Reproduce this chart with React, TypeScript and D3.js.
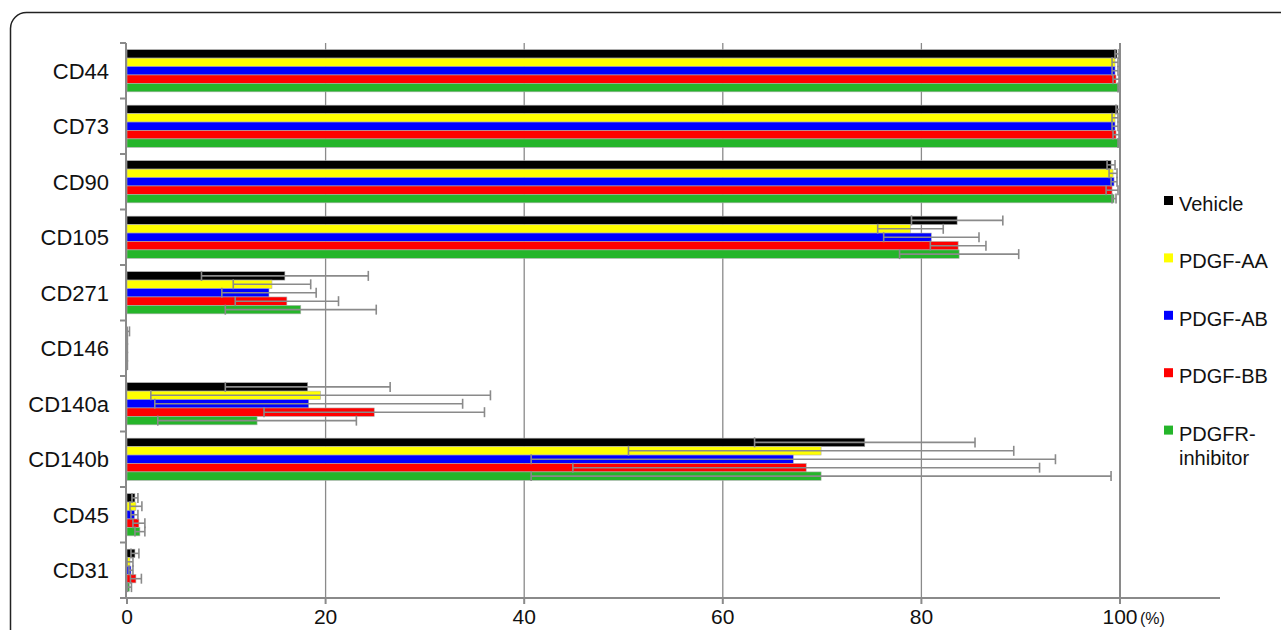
import React from "react";
import * as d3 from "d3";

const categories = ["CD44", "CD73", "CD90", "CD105", "CD271", "CD146", "CD140a", "CD140b", "CD45", "CD31"];
const seriesNames = ["Vehicle", "PDGF-AA", "PDGF-AB", "PDGF-BB", "PDGFR-inhibitor"];
const seriesColors = ["#000000", "#ffff00", "#0000ff", "#ff0000", "#25b52a"];

const vehicle = [99.7, 99.8, 99.1, 83.6, 15.9, 0.05, 18.2, 74.3, 0.8, 0.8];
const vehicleErr = [0.2, 0.2, 0.4, 4.6, 8.4, 0.2, 8.3, 11.1, 0.3, 0.4];
const pdgfAA = [99.5, 99.5, 99.3, 78.9, 14.6, 0.02, 19.5, 69.9, 0.9, 0.3];
const pdgfAAErr = [0.3, 0.3, 0.4, 3.3, 3.9, 0.02, 17.1, 19.4, 0.6, 0.3];
const pdgfAB = [99.5, 99.5, 99.4, 81.0, 14.3, 0.02, 18.3, 67.1, 0.75, 0.4];
const pdgfABErr = [0.3, 0.3, 0.3, 4.8, 4.75, 0.02, 15.5, 26.4, 0.35, 0.2];
const pdgfBB = [99.6, 99.6, 99.2, 83.7, 16.1, 0.02, 24.9, 68.4, 1.2, 0.9];
const pdgfBBErr = [0.3, 0.3, 0.6, 2.8, 5.2, 0.02, 11.1, 23.5, 0.6, 0.55];
const inhibitor = [99.9, 99.9, 99.4, 83.8, 17.5, 0.02, 13.1, 69.9, 1.3, 0.25];
const inhibitorErr = [0.1, 0.1, 0.2, 6.0, 7.6, 0.02, 10.0, 29.2, 0.5, 0.2];

const xTicks = [0, 20, 40, 60, 80, 100];

const values = [vehicle, pdgfAA, pdgfAB, pdgfBB, inhibitor];
const errors = [vehicleErr, pdgfAAErr, pdgfABErr, pdgfBBErr, inhibitorErr];

const FONT = "'Liberation Sans', Arial, Helvetica, sans-serif";

export default function App() {
  const W = 1281;
  const H = 630;
  const top = 43;
  const bottom = 598;
  const x = d3.scaleLinear().domain([0, 100]).range([127, 1120]);
  const xEnd = 1220;
  const y = d3.scaleBand<string>().domain(categories).range([top, bottom]).paddingInner(0.24).paddingOuter(0.12);
  const sub = d3.scaleBand<string>().domain(seriesNames).range([0, y.bandwidth()]).padding(0);
  const step = y.step();
  const axisColor = "#8a8a8a";
  const boundaries = d3.range(categories.length + 1).map((i) => top + i * step);

  return (
    <svg width={W} height={H} style={{ position: "absolute", left: 0, top: 0 }} fontFamily={FONT}>
      <rect x={0} y={0} width={W} height={H} fill="#ffffff" />
      <rect x={10.5} y={12.5} width={1400} height={800} rx={16} ry={16} fill="none" stroke="#222" strokeWidth={1.5} />

      {/* gridlines */}
      {xTicks.filter((t) => t > 0).map((t) => (
        <line key={"g" + t} x1={x(t)} x2={x(t)} y1={top} y2={bottom} stroke={axisColor} strokeWidth={t === 100 ? 2 : 1.3} />
      ))}

      {/* bars */}
      {categories.map((c, ci) => (
        <g key={c} transform={`translate(0,${y(c)})`}>
          {seriesNames.map((s, si) => (
            <rect
              key={s}
              x={x(0)}
              y={sub(s)}
              width={Math.max(0, x(values[si][ci]) - x(0))}
              height={sub.bandwidth()}
              fill={seriesColors[si]}
              stroke="#b0b0b0"
              strokeWidth={0.6}
            />
          ))}
        </g>
      ))}

      {/* error bars */}
      {categories.map((c, ci) => (
        <g key={"e" + c} transform={`translate(0,${y(c)})`}>
          {seriesNames.map((s, si) => {
            const v = values[si][ci];
            const e = errors[si][ci];
            const cy = (sub(s) as number) + sub.bandwidth() / 2;
            const x1 = x(Math.max(0, v - e));
            const x2 = x(v + e);
            const hh = 5;
            return (
              <g key={s} stroke="#8a8a8a" strokeWidth={1.6}>
                <line x1={x1} x2={x2} y1={cy} y2={cy} />
                <line x1={x1} x2={x1} y1={cy - hh} y2={cy + hh} />
                <line x1={x2} x2={x2} y1={cy - hh} y2={cy + hh} />
              </g>
            );
          })}
        </g>
      ))}

      {/* y axis */}
      <line x1={126} x2={126} y1={top} y2={bottom} stroke={axisColor} strokeWidth={2} />
      {boundaries.map((b, i) => (
        <line key={"yt" + i} x1={120} x2={126} y1={b} y2={b} stroke={axisColor} strokeWidth={2} />
      ))}
      {categories.map((c) => (
        <text key={"yl" + c} x={109} y={(y(c) as number) + y.bandwidth() / 2 + 8} textAnchor="end" fontSize={22} fill="#111">
          {c}
        </text>
      ))}

      {/* x axis */}
      <line x1={126} x2={xEnd} y1={bottom} y2={bottom} stroke={axisColor} strokeWidth={2} />
      {xTicks.map((t) => (
        <line key={"xt" + t} x1={x(t)} x2={x(t)} y1={bottom} y2={bottom + 6} stroke={axisColor} strokeWidth={2} />
      ))}
      {xTicks.map((t) => (
        <text key={"xl" + t} x={x(t)} y={624} textAnchor="middle" fontSize={21} fill="#111">
          {t}
        </text>
      ))}
      <text x={x(100) + 20} y={624} fontSize={16} fill="#111">(%)</text>

      {/* legend */}
      {seriesNames.map((s, i) => {
        const sy = 196 + i * 57.4;
        const lines = s === "PDGFR-inhibitor" ? ["PDGFR-", "inhibitor"] : [s];
        return (
          <g key={"lg" + s}>
            <rect x={1164} y={sy} width={9} height={9} fill={seriesColors[i]} />
            <text x={1179} y={sy + 15} fontSize={20} fill="#111">
              {lines.map((l, li) => (
                <tspan key={li} x={1179} dy={li === 0 ? 0 : 24}>
                  {l}
                </tspan>
              ))}
            </text>
          </g>
        );
      })}
    </svg>
  );
}
